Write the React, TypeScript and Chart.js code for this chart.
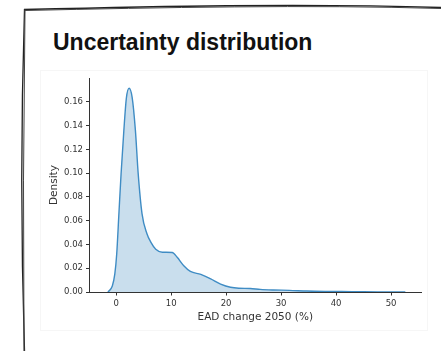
import React, { useEffect, useRef } from "react";
import { Chart, registerables } from "chart.js";

Chart.register(...registerables);

const TITLE = "Uncertainty distribution";
const X_LABEL = "EAD change 2050 (%)";
const Y_LABEL = "Density";

// EAD change 2050 (%) sample positions and KDE density values
const xValues = [-1.5, -0.7, -0.25, 0.1, 0.5, 0.9, 1.4, 1.85, 2.35, 2.9, 3.5, 4.0, 4.7, 5.6, 6.3, 7.2, 8.4, 10.2, 11.1, 12.3, 13.5, 15.4, 17.2, 19.0, 20.8, 22.3, 24.4, 26.2, 28.6, 31.5, 34.7, 38, 41, 45, 49, 52.6];
const density = [0, 0.005, 0.015, 0.032, 0.066, 0.1, 0.136, 0.163, 0.1715, 0.164, 0.136, 0.1, 0.066, 0.049, 0.042, 0.036, 0.0335, 0.0333, 0.0292, 0.0221, 0.0173, 0.0148, 0.011, 0.0067, 0.004, 0.0032, 0.003, 0.0022, 0.0017, 0.0014, 0.0008, 0.0005, 0.0004, 0.0002, 0.0001, 0];

const xTicks = [0, 10, 20, 30, 40, 50];
const yTicks = [0, 0.02, 0.04, 0.06, 0.08, 0.1, 0.12, 0.14, 0.16];

const X_MIN = -4.85;
const X_MAX = 55.45;
const Y_MIN = 0;
const Y_MAX = 0.18;

export default function App() {
  const canvasRef = useRef<HTMLCanvasElement | null>(null);

  useEffect(() => {
    const canvas = canvasRef.current;
    if (!canvas) return;
    const axisColor = "#333333";
    const tickFont = { family: "'DejaVu Sans', sans-serif", size: 8.5 };
    const labelFont = { family: "'DejaVu Sans', sans-serif", size: 10.5 };
    const chart = new Chart(canvas, {
      type: "line",
      data: {
        datasets: [
          {
            data: xValues.map((x, i) => ({ x, y: density[i] })),
            borderColor: "#3f8cc4",
            borderWidth: 1.4,
            backgroundColor: "rgba(31,119,180,0.24)",
            fill: "origin",
            pointRadius: 0,
            cubicInterpolationMode: "monotone",
          },
        ],
      },
      options: {
        responsive: false,
        animation: false,
        devicePixelRatio: 1,
        layout: { padding: { left: 0, right: 7, top: 8, bottom: 0 } },
        plugins: {
          legend: { display: false },
          tooltip: { enabled: false },
          title: { display: false },
        },
        scales: {
          x: {
            type: "linear",
            min: X_MIN,
            max: X_MAX,
            afterBuildTicks: (s: any) => {
              s.ticks = xTicks.map((v) => ({ value: v }));
            },
            afterFit: (s: any) => {
              s.height = 39;
            },
            ticks: {
              font: tickFont,
              color: axisColor,
              padding: 3,
              maxRotation: 0,
              autoSkip: false,
              callback: (v: any) => String(v),
            },
            grid: {
              display: true,
              drawOnChartArea: false,
              drawTicks: true,
              tickLength: 3.5,
              color: axisColor,
              lineWidth: 1,
            },
            border: { display: true, color: axisColor, width: 1 },
            title: {
              display: true,
              text: X_LABEL,
              font: labelFont,
              color: axisColor,
              padding: { top: 0, bottom: 7 },
            },
          },
          y: {
            type: "linear",
            min: Y_MIN,
            max: Y_MAX,
            afterBuildTicks: (s: any) => {
              s.ticks = yTicks.map((v) => ({ value: v }));
            },
            afterFit: (s: any) => {
              s.width = 49.5;
            },
            ticks: {
              font: tickFont,
              color: axisColor,
              padding: 3,
              autoSkip: false,
              callback: (v: any) => Number(v).toFixed(2),
            },
            grid: {
              display: true,
              drawOnChartArea: false,
              drawTicks: true,
              tickLength: 3.5,
              color: axisColor,
              lineWidth: 1,
            },
            border: { display: true, color: axisColor, width: 1 },
            title: {
              display: true,
              text: Y_LABEL,
              font: labelFont,
              color: axisColor,
              padding: { top: 8, bottom: 0 },
            },
          },
        },
      },
    } as any);
    return () => chart.destroy();
  }, []);

  return (
    <div
      style={{
        position: "absolute",
        left: 0,
        top: 0,
        width: 441,
        height: 351,
        overflow: "hidden",
        background: "#ffffff",
      }}
    >
      <svg
        width={441}
        height={351}
        style={{ position: "absolute", left: 0, top: 0 }}
      >
        <path d="M 24 9.5 C 150 6.5, 300 3, 441 7.5" stroke="#222" strokeWidth={1.4} fill="none" />
        <path d="M 25 10.5 C 160 7.5, 310 4.5, 441 8.5" stroke="#444" strokeWidth={1} fill="none" />
        <path d="M 24.5 9 Q 19 180 24.5 351" stroke="#222" strokeWidth={1.3} fill="none" />
        <path d="M 25 9.5 Q 22.5 180 24 351" stroke="#444" strokeWidth={1} fill="none" />
      </svg>
      <div
        style={{
          position: "absolute",
          left: 40,
          top: 70,
          width: 388,
          height: 261,
          border: "1px solid #f6f6f6",
          boxSizing: "border-box",
        }}
      />
      <div
        style={{
          position: "absolute",
          left: 53,
          top: 30.5,
          fontFamily: "'Liberation Sans', Arial, sans-serif",
          fontWeight: 700,
          fontSize: 23,
          lineHeight: "23px",
          color: "#111",
          whiteSpace: "nowrap",
        }}
      >
        {TITLE}
      </div>
      <canvas
        ref={canvasRef}
        width={388}
        height={261}
        style={{ position: "absolute", left: 40, top: 70, width: 388, height: 261 }}
      />
    </div>
  );
}
